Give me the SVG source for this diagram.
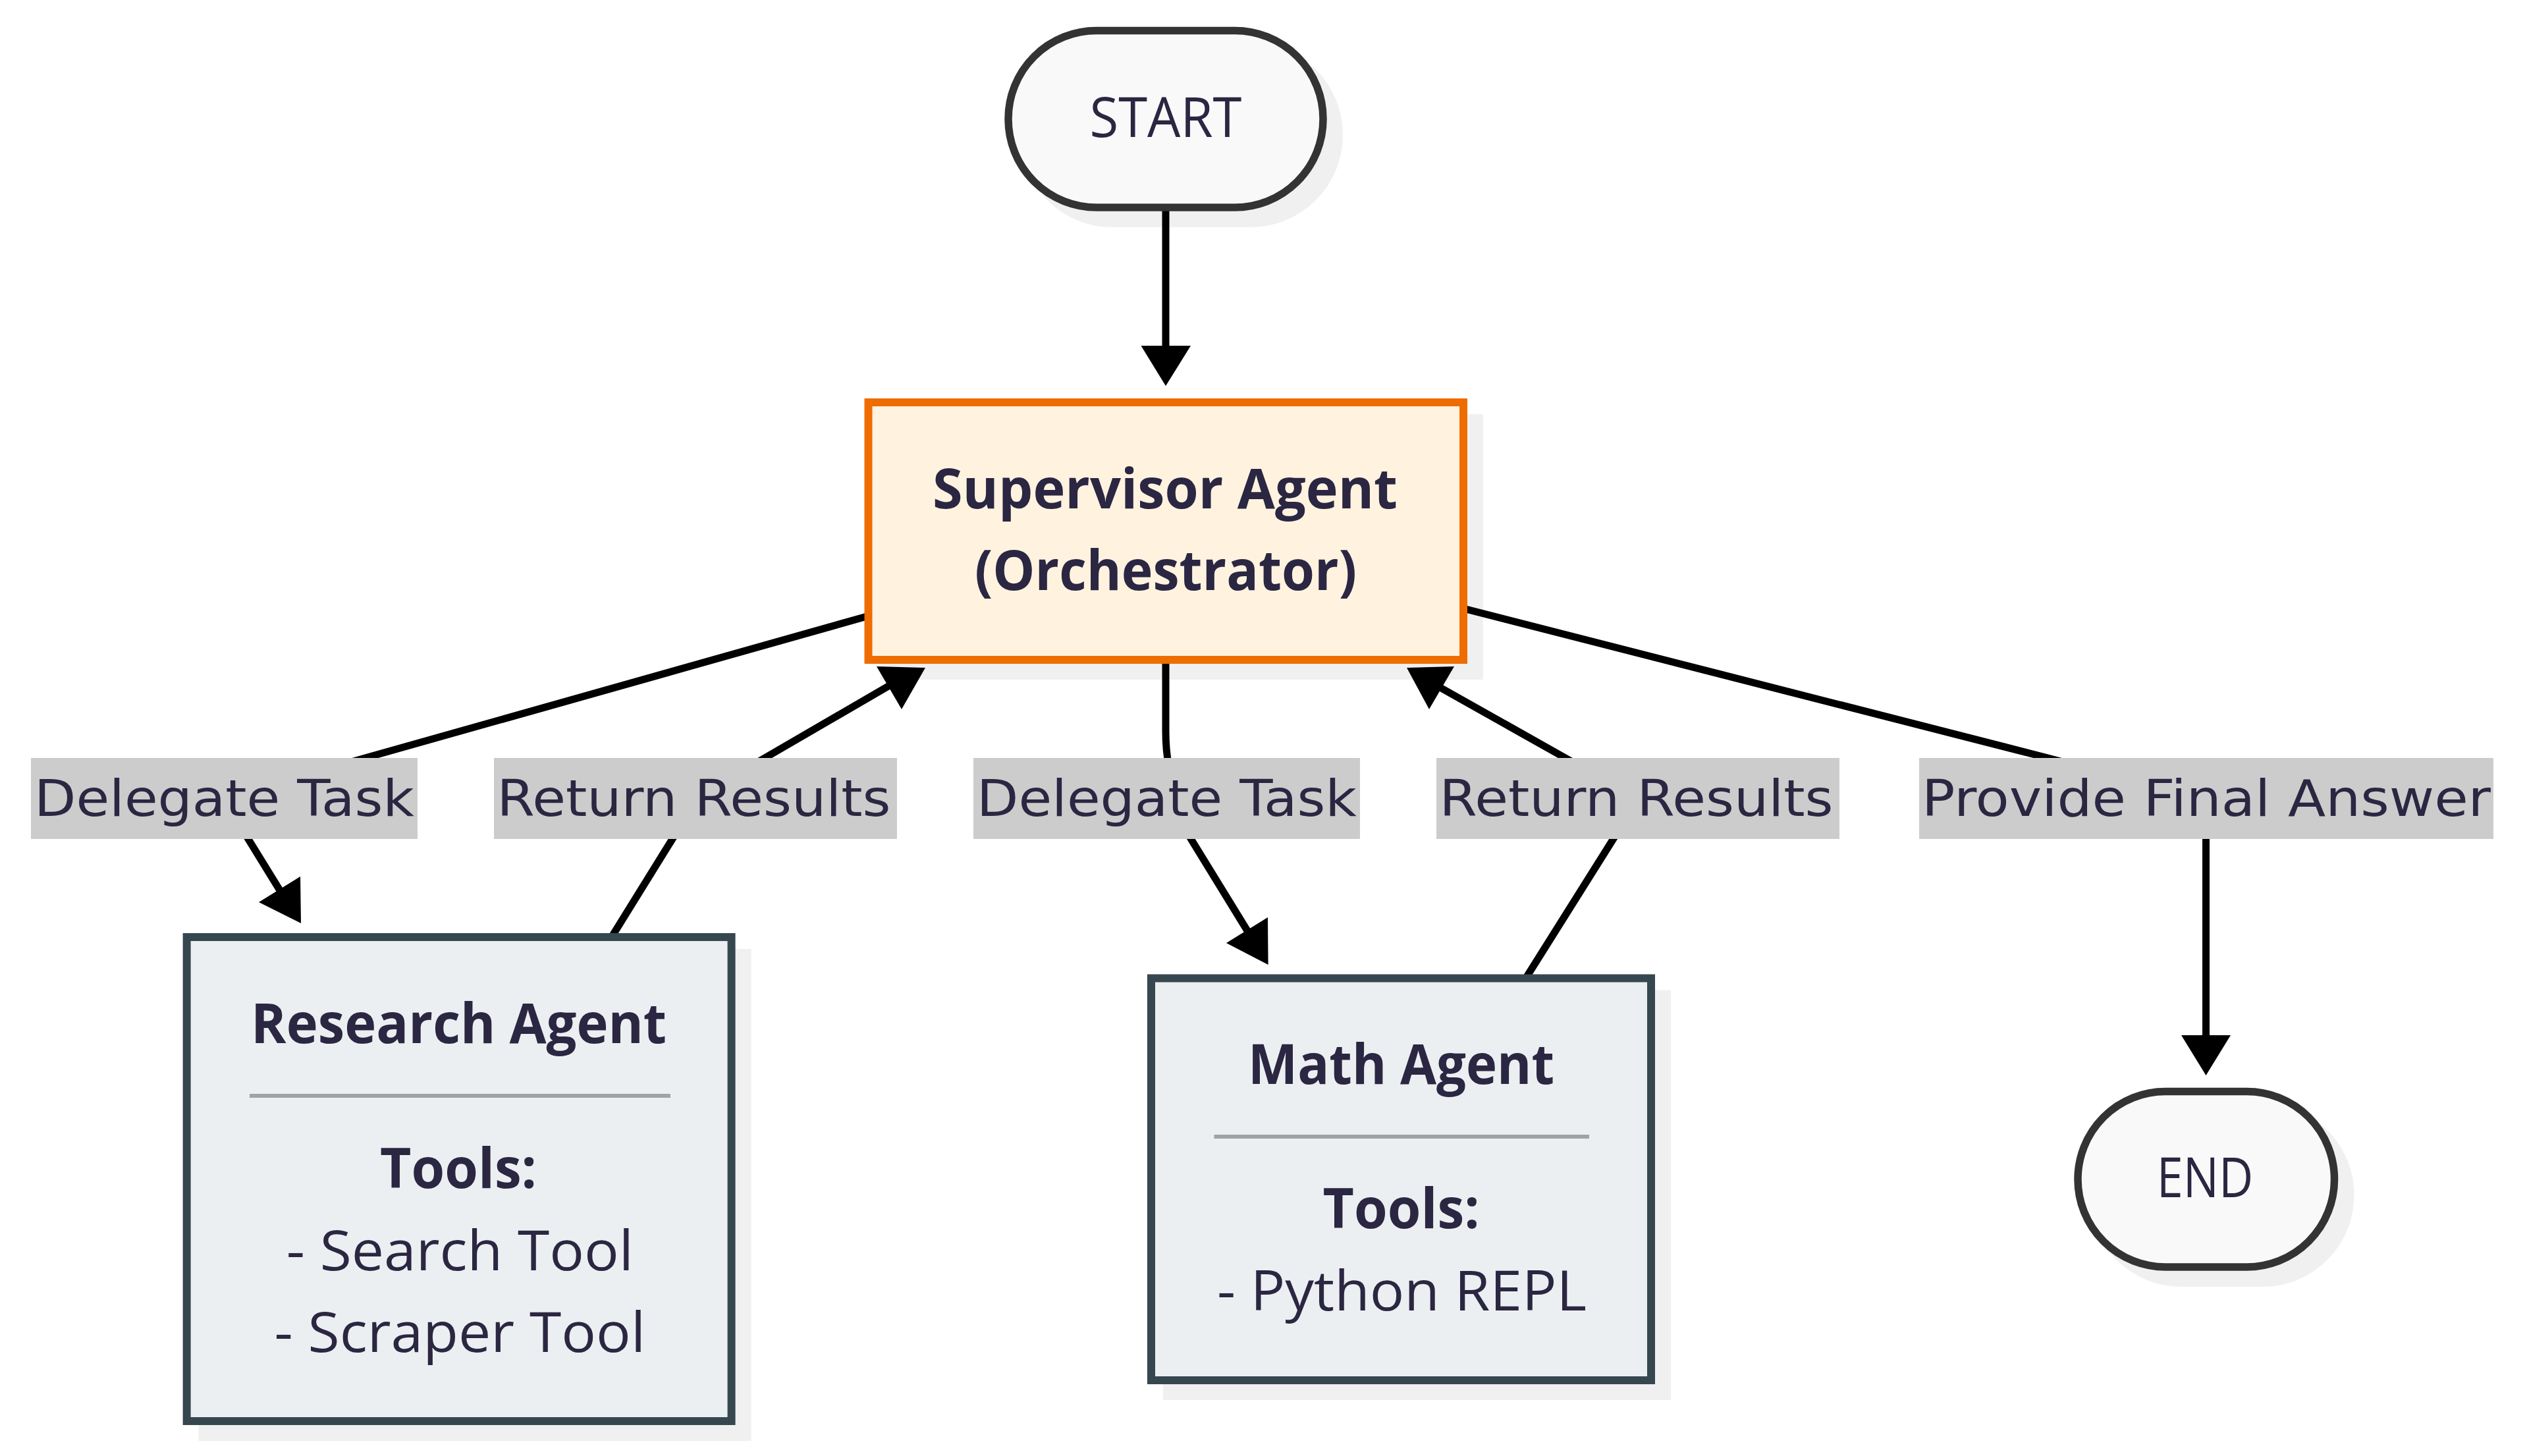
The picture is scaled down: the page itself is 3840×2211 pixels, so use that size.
<svg xmlns="http://www.w3.org/2000/svg" width="3840" height="2211" viewBox="0 0 3840 2211">
<style>
.bg{fill:#ffffff}
.shadow{fill:#f0f0f0;stroke:#f0f0f0;stroke-width:12}
.term{fill:#f9f9f9;stroke:#333333;stroke-width:11.5}
.sup{fill:#fff3e0;stroke:#ef6c00;stroke-width:12}
.agent{fill:#eceff1;stroke:#37474f;stroke-width:12}
.sep{fill:#a2a2a2}
.edge{fill:none;stroke:#000000;stroke-width:11;stroke-linejoin:round}
.ah{fill:#000000}
.lbg{fill:#cccccc}
.t{font-family:"Open Sans","Noto Sans","DejaVu Sans",sans-serif;font-size:85px;fill:#2b2641;text-anchor:middle}
.b{font-weight:bold}
.lt{font-family:"DejaVu Sans","Noto Sans",sans-serif;font-size:77px;fill:#2b2641}
</style>
<rect class="bg" x="0" y="0" width="3840" height="2211"/>
<g id="shadows">
<rect class="shadow" x="1555" y="70.5" width="478" height="268.5" rx="134" ry="134"/>
<rect class="shadow" x="1342.5" y="635" width="903.5" height="391"/>
<rect class="shadow" x="307.6" y="1447" width="827" height="735"/>
<rect class="shadow" x="1772" y="1509.5" width="759" height="610.5"/>
<rect class="shadow" x="3179" y="1681.5" width="389.5" height="266.5" rx="133" ry="133"/>
</g>
<g id="connectors">
<path class="edge" d="M1770 315 L1770 530"/>
<polygon class="ah" points="1732.5,525 1808,525 1770,586"/>
<path class="edge" d="M1318 935.5 L519 1161 L359 1245 L428 1357"/>
<polygon class="ah" points="456,1331 393,1370 457,1402"/>
<path class="edge" d="M928.6 1423 L1020.4 1275 L1040 1245 L1132.6 1167.5 L1163 1150 L1366 1032"/>
<polygon class="ah" points="1331,1012 1405,1014 1369,1077"/>
<path class="edge" d="M1770 1002 L1770 1110 Q1770 1140 1775 1165 L1790.5 1245 L1898 1420"/>
<polygon class="ah" points="1925,1393 1862,1432 1925.6,1465"/>
<path class="edge" d="M2317 1485 L2449 1275 L2468 1245 L2405.6 1167 L2375 1150 L2176 1038"/>
<polygon class="ah" points="2136,1014 2208,1012 2170,1077"/>
<path class="edge" d="M2222 924 L3105.6 1150 L3140 1159 L3349.5 1220 L3349.5 1580"/>
<polygon class="ah" points="3312,1572 3387,1572 3349.5,1633"/>
</g>
<g id="edge-labels">
<g id="label-delegate-1">
<rect class="lbg" x="47" y="1151" width="587" height="123"/>
<text class="lt" x="52" y="1239" textLength="577" lengthAdjust="spacingAndGlyphs">Delegate Task</text>
</g>
<g id="label-return-1">
<rect class="lbg" x="750" y="1151" width="612" height="123"/>
<text class="lt" x="754.5" y="1239" textLength="598" lengthAdjust="spacingAndGlyphs">Return Results</text>
</g>
<g id="label-delegate-2">
<rect class="lbg" x="1478" y="1151" width="587" height="123"/>
<text class="lt" x="1483" y="1239" textLength="577" lengthAdjust="spacingAndGlyphs">Delegate Task</text>
</g>
<g id="label-return-2">
<rect class="lbg" x="2181" y="1151" width="612" height="123"/>
<text class="lt" x="2185.5" y="1239" textLength="598" lengthAdjust="spacingAndGlyphs">Return Results</text>
</g>
<g id="label-final">
<rect class="lbg" x="2914" y="1151" width="872" height="123"/>
<text class="lt" x="2918" y="1239" textLength="864" lengthAdjust="spacingAndGlyphs">Provide Final Answer</text>
</g>
</g>
<g id="node-start">
<rect class="term" x="1531" y="46.5" width="478" height="268.5" rx="134" ry="134"/>
<text class="t" x="1770" y="208" textLength="231" lengthAdjust="spacingAndGlyphs">START</text>
</g>
<g id="node-supervisor">
<rect class="sup" x="1318.5" y="611" width="903.5" height="391"/>
<text class="t b" x="1769" y="772" textLength="706" lengthAdjust="spacingAndGlyphs">Supervisor Agent</text>
<text class="t b" x="1770" y="896" textLength="580" lengthAdjust="spacingAndGlyphs">(Orchestrator)</text>
</g>
<g id="node-research">
<rect class="agent" x="283.6" y="1423" width="827" height="735"/>
<text class="t b" x="696.6" y="1584" textLength="631" lengthAdjust="spacingAndGlyphs">Research Agent</text>
<rect class="sep" x="379" y="1661" width="639" height="6"/>
<text class="t b" x="696" y="1803.5" textLength="238" lengthAdjust="spacingAndGlyphs">Tools:</text>
<text class="t" x="698.3" y="1928.5" textLength="527" lengthAdjust="spacingAndGlyphs">- Search Tool</text>
<text class="t" x="698.3" y="2052.5" textLength="563.5" lengthAdjust="spacingAndGlyphs">- Scraper Tool</text>
</g>
<g id="node-math">
<rect class="agent" x="1748" y="1485.5" width="759" height="610.5"/>
<text class="t b" x="2127.6" y="1646.4" textLength="465" lengthAdjust="spacingAndGlyphs">Math Agent</text>
<rect class="sep" x="1843.5" y="1723" width="569.5" height="6"/>
<text class="t b" x="2127.6" y="1865" textLength="238" lengthAdjust="spacingAndGlyphs">Tools:</text>
<text class="t" x="2128.5" y="1990" textLength="561" lengthAdjust="spacingAndGlyphs">- Python REPL</text>
</g>
<g id="node-end">
<rect class="term" x="3155" y="1657.5" width="389.5" height="266.5" rx="133" ry="133"/>
<text class="t" x="3348" y="1817.7" textLength="146.5" lengthAdjust="spacingAndGlyphs">END</text>
</g>
</svg>
